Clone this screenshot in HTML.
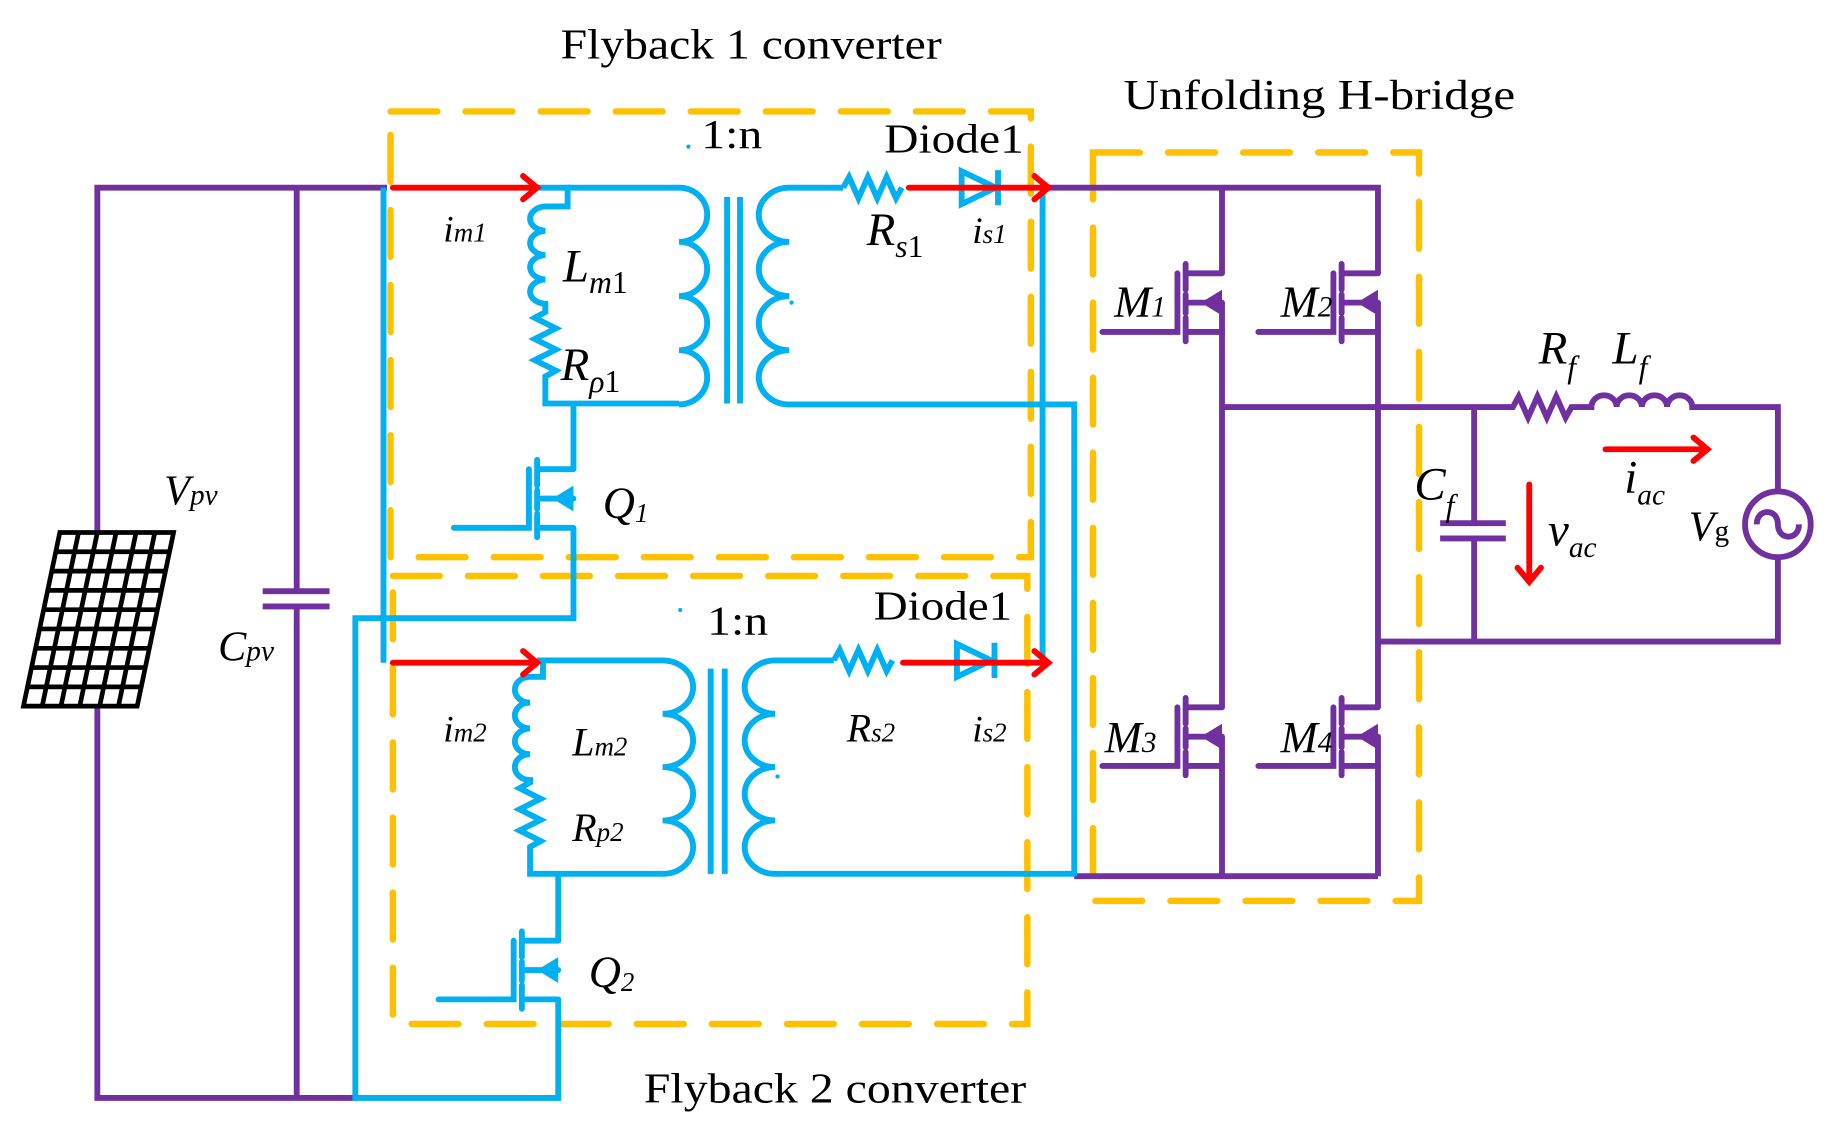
<!DOCTYPE html>
<html><head><meta charset="utf-8"><style>
html,body{margin:0;padding:0;background:#fff}
svg{display:block}
text{font-family:"Liberation Serif",serif;fill:#000}
.i{font-style:italic}
</style></head><body>
<svg width="1833" height="1146" viewBox="0 0 1563 977" preserveAspectRatio="none" xmlns="http://www.w3.org/2000/svg">
<defs>
<g id="fet">
<path d="M0,0 H-31 M-31,-8 V14 M-31,18 V34 M-31,38 V58 M-38,0 V50 H-102 M-31,50 H0 M-31,25 H0" fill="none" stroke-width="5" stroke-linecap="round"/>
<path d="M-18,25 L0,14 L0,36 Z" stroke="none"/>
</g>
</defs>

<!-- dashed boxes -->
<g fill="none" stroke="#FFC000" stroke-width="5.5" stroke-dasharray="40,24" stroke-linecap="round">
<rect x="333" y="95" width="546" height="380"/>
<rect x="335" y="491" width="541" height="382"/>
<rect x="932" y="130" width="278" height="638"/>
</g>

<!-- purple wiring -->
<g fill="none" stroke="#7030A0" stroke-width="5">
<path d="M330,160 H83 V936 H303"/>
<path d="M253,160 V504 M224,504 H281 M224,517 H281 M253,517 V936"/>
<path d="M889,160 H1175 V233 M1042,160 V233"/>
<path d="M1042,258 V603 M1042,628 V747 M1175,258 V603 M1175,628 V747 M916,747 H1175"/>
<path d="M1042,347 H1290 l5,-9 l8,18 l8,-18 l8,18 l8,-18 l8,18 l5,-9 H1357 a10.75,10 0 0 1 21.5,0 a10.75,10 0 0 1 21.5,0 a10.75,10 0 0 1 21.5,0 a10.75,10 0 0 1 21.5,0 H1516 V419 M1516,475 V547 H1175"/>
<path d="M1257,347 V446 M1228,446 H1284 M1228,459 H1284 M1257,459 V547"/>
<circle cx="1516" cy="447" r="28"/>
<path d="M1498,447 c0,-14 18,-14 18,0 c0,14 18,14 18,0"/>
</g>
<g fill="#7030A0" stroke="#7030A0">
<use href="#fet" x="1042" y="233"/>
<use href="#fet" x="1175" y="233"/>
<use href="#fet" x="1042" y="603"/>
<use href="#fet" x="1175" y="603"/>
</g>

<!-- blue wiring -->
<g fill="none" stroke="#00B0F0" stroke-width="5">
<path d="M327,160 V565"/>
<path d="M458,160 H484 V176 H465 a14,10.4 0 0 0 0,20.75 a14,10.4 0 0 0 0,20.75 a14,10.4 0 0 0 0,20.75 a14,10.4 0 0 0 0,20.75 V266 l-9,5 l18,9 l-18,9 l18,9 l-18,9 l18,9 l-9,5 V344 H579"/>
<path d="M484,160 H579 a24,23.1 0 0 1 0,46.2 a24,23.1 0 0 1 0,46.2 a24,23.1 0 0 1 0,46.2 a24,23.1 0 0 1 0,46.2"/>
<path d="M620,168 V344 M631,168 V344"/>
<path d="M719,160 H673 a26,23.1 0 0 0 0,46.2 a26,23.1 0 0 0 0,46.2 a26,23.1 0 0 0 0,46.2 a26,23.1 0 0 0 0,46.2 H916 V747"/>
<path d="M719,160 l5,-9 l8,18 l8,-18 l8,18 l8,-18 l8,18 l5,-9"/>
<path d="M820,146 V174 L849,160 Z M851,145 V175" />
<path d="M889,160 V565"/>
<path d="M489,344 V400 M489,450 V527 H303 V936 H476 V853 M476,802 V745"/>
<path d="M458,563 H463 V577 H452 a13,11 0 0 0 0,22 a13,11 0 0 0 0,22 a13,11 0 0 0 0,22 a13,11 0 0 0 0,22 V667 l-9,5 l18,9 l-18,9 l18,9 l-18,9 l18,9 l-9,5 V745 H565"/>
<path d="M463,563 H565 a26,22.75 0 0 1 0,45.5 a26,22.75 0 0 1 0,45.5 a26,22.75 0 0 1 0,45.5 a26,22.75 0 0 1 0,45.5"/>
<path d="M606,570 V745 M618,570 V745"/>
<path d="M711,563 H661 a26,22.75 0 0 0 0,45.5 a26,22.75 0 0 0 0,45.5 a26,22.75 0 0 0 0,45.5 a26,22.75 0 0 0 0,45.5 H916"/>
<path d="M711,563 l5,-9 l8,18 l8,-18 l8,18 l8,-18 l8,18 l5,-9"/>
<path d="M816,549 V577 L845,563 Z M848,548 V578"/>
</g>
<g fill="#00B0F0" stroke="#00B0F0">
<use href="#fet" x="489" y="400"/>
<use href="#fet" x="476" y="802"/>
</g>
<g fill="#00B0F0"><circle cx="587" cy="125" r="1.8"/><circle cx="675" cy="258" r="1.8"/><circle cx="580" cy="520" r="1.8"/><circle cx="663" cy="662" r="1.8"/></g>

<!-- red arrows -->
<g fill="none" stroke="#FF0000" stroke-width="5" stroke-linecap="round">
<path d="M335,160 H458 M446,150 L458,160 L446,170"/>
<path d="M775,160 H894 M882,150 L894,160 L882,170"/>
<path d="M335,565 H458 M446,555 L458,565 L446,575"/>
<path d="M770,565 H894 M882,555 L894,565 L882,575"/>
<path d="M1369,383 H1456 M1444,373 L1456,383 L1444,393"/>
<path d="M1304,413 V496 M1294,484 L1304,496 L1314,484"/>
</g>

<!-- solar panel -->
<g fill="#fff" stroke="#000" stroke-width="4">
<polygon points="51,454 148,454 117,602 20,602"/>
<path fill="none" d="M67,454 L36,602 M83,454 L52,602 M99,454 L68,602 M116,454 L85,602 M132,454 L101,602
M47.6,470.4 H144.6 M44.1,486.9 H141.1 M40.7,503.3 H137.7 M37.2,519.8 H134.2 M33.8,536.2 H130.8 M30.3,552.7 H127.3 M26.9,569.1 H123.9 M23.4,585.6 H120.4"/>
</g>

<!-- labels -->
<text x="478" y="50" font-size="36" textLength="325" lengthAdjust="spacingAndGlyphs">Flyback 1 converter</text>
<text x="549" y="940" font-size="36" textLength="326" lengthAdjust="spacingAndGlyphs">Flyback 2 converter</text>
<text x="958" y="93" font-size="36" textLength="334" lengthAdjust="spacingAndGlyphs">Unfolding H-bridge</text>
<text x="598" y="126" font-size="35" textLength="52" lengthAdjust="spacingAndGlyphs">1:n</text>
<text x="603" y="541" font-size="35" textLength="52" lengthAdjust="spacingAndGlyphs">1:n</text>
<text x="754" y="130" font-size="35" textLength="119" lengthAdjust="spacingAndGlyphs">Diode1</text>
<text x="745" y="528" font-size="35" textLength="118" lengthAdjust="spacingAndGlyphs">Diode1</text>

<text class="i" x="378" y="206" font-size="32">i<tspan font-size="23">m1</tspan></text>
<text class="i" x="480" y="240" font-size="40">L<tspan font-size="27" dy="10">m</tspan><tspan font-style="normal" font-size="27">1</tspan></text>
<text class="i" x="478" y="324" font-size="40">R<tspan font-size="27" dy="10">ρ</tspan><tspan font-style="normal" font-size="27">1</tspan></text>
<text class="i" x="739" y="209" font-size="40">R<tspan font-size="27" dy="10">s</tspan><tspan font-style="normal" font-size="27">1</tspan></text>
<text class="i" x="829" y="207" font-size="32">i<tspan font-size="23">s1</tspan></text>
<text class="i" x="514" y="441" font-size="38">Q<tspan font-size="23" dy="4">1</tspan></text>

<text class="i" x="378" y="632" font-size="32">i<tspan font-size="23">m2</tspan></text>
<text class="i" x="488" y="644" font-size="34">L<tspan font-size="23">m2</tspan></text>
<text class="i" x="488" y="717" font-size="34">R<tspan font-size="23">p2</tspan></text>
<text class="i" x="722" y="632" font-size="34">R<tspan font-size="23">s2</tspan></text>
<text class="i" x="829" y="632" font-size="32">i<tspan font-size="23">s2</tspan></text>
<text class="i" x="502" y="841" font-size="38">Q<tspan font-size="23" dy="4">2</tspan></text>

<text class="i" x="140" y="430" font-size="36">V<tspan font-size="25">pv</tspan></text>
<text class="i" x="186" y="563" font-size="36">C<tspan font-size="25">pv</tspan></text>

<text class="i" x="950" y="270" font-size="38">M<tspan font-size="25">1</tspan></text>
<text class="i" x="1092" y="270" font-size="38">M<tspan font-size="25">2</tspan></text>
<text class="i" x="942" y="641" font-size="38">M<tspan font-size="25">3</tspan></text>
<text class="i" x="1092" y="641" font-size="38">M<tspan font-size="25">4</tspan></text>

<text class="i" x="1312" y="310" font-size="40">R<tspan font-size="27" dy="12">f</tspan></text>
<text class="i" x="1375" y="310" font-size="40">L<tspan font-size="27" dy="12">f</tspan></text>
<text class="i" x="1206" y="426" font-size="40">C<tspan font-size="27" dy="14">f</tspan></text>
<text class="i" x="1385" y="420" font-size="40">i<tspan font-size="25" dy="10">ac</tspan></text>
<text class="i" x="1320" y="465" font-size="40">v<tspan font-size="25" dy="10">ac</tspan></text>
<text class="i" x="1440" y="461" font-size="36">V<tspan font-style="normal" font-size="25">g</tspan></text>
</svg>
</body></html>
